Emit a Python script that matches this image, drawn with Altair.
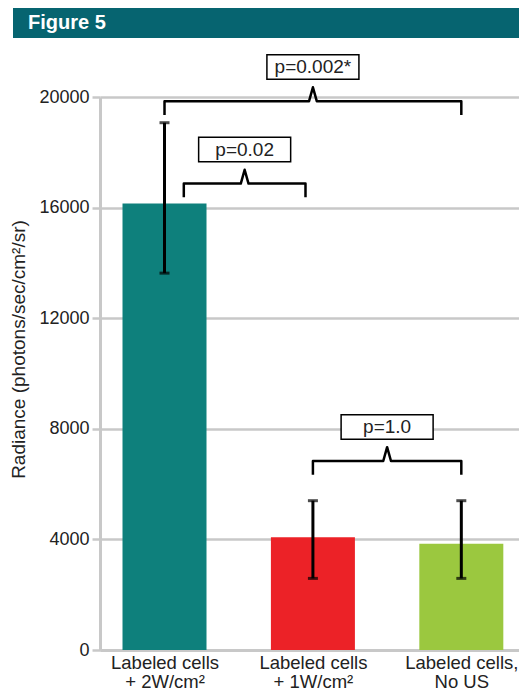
import json
import altair as alt
import pandas as pd

# ---- data ----
categories = ["Labeled cells\n+ 2W/cm²", "Labeled cells\n+ 1W/cm²", "Labeled cells,\nNo US"]
radiance = [16150, 4075, 3840]
err_high = [19070, 5400, 5400]
err_low = [13630, 2590, 2590]
bar_colors = ["#0e807c", "#ec2227", "#9bc83f"]

p_labels = ["p=0.002*", "p=0.02", "p=1.0"]
p_left = [0, 0.13, 1]
p_right = [2, 0.95, 2]
p_level = [19850, 16870, 6835]

y_ticks = [0, 4000, 8000, 12000, 16000, 20000]

# ---- geometry (styling, not data) ----
W, H = 419, 553
TOP = 89
X_DOM = [-0.401, 2.355]
Y_DOM = [0, 20000]
DROP, RISE, TIPW = 500, 500, 0.026
BOX_LO, BOX_HI, BOX_HW, TXT_OFF = 790, 1675, 0.31, 1225
GRID = "#c8c8c8"
INK = "#222222"

idx = list(range(len(categories)))
bars_df = pd.DataFrame({"idx": idx, "cat": categories, "value": radiance,
                        "hi": err_high, "lo": err_low})

xs = alt.Scale(domain=X_DOM, nice=False, zero=False)
ys = alt.Scale(domain=Y_DOM, nice=False, zero=False)

label_lists = [c.split("\n") for c in categories]
label_expr = json.dumps(label_lists, ensure_ascii=False) + "[datum.value]"

Y_TITLE = "Radiance (photons/sec/cm²/sr)"
x_axis = alt.Axis(values=idx, labelExpr=label_expr, title=None, grid=False, ticks=False,
                  domainColor=GRID, domainWidth=3, labelFontSize=18.5, labelColor=INK,
                  labelPadding=3, labelLineHeight=19, labelOverlap=False, labelFlush=False)
y_axis = alt.Axis(values=y_ticks, format="d", title=Y_TITLE,
                  grid=True, gridColor=GRID, gridWidth=2.5, tickColor=GRID, tickWidth=2.5,
                  tickSize=8, domainColor=GRID, domainWidth=3, labelFontSize=18,
                  labelColor=INK, labelPadding=3, titleFontSize=19, titleFontWeight="normal",
                  titleColor=INK, titleX=-72, titleY=252)


def X(field):
    return alt.X(field, scale=xs, axis=x_axis, title=None)


def Y(field):
    return alt.Y(field, scale=ys, axis=y_axis, title=Y_TITLE)


bars = alt.Chart(bars_df).mark_bar(size=84).encode(
    x=X("idx:Q"),
    y=Y("value:Q"),
    color=alt.Color("cat:N", scale=alt.Scale(domain=categories, range=bar_colors), legend=None),
)

err = alt.Chart(bars_df).mark_rule(strokeWidth=3, color="black").encode(
    x=X("idx:Q"), y=Y("lo:Q"), y2="hi:Q",
)
cap_hi = alt.Chart(bars_df).mark_tick(orient="horizontal", size=10, thickness=3, color="black").encode(
    x=X("idx:Q"), y=Y("hi:Q"),
)
cap_lo = alt.Chart(bars_df).mark_tick(orient="horizontal", size=10, thickness=3, color="black").encode(
    x=X("idx:Q"), y=Y("lo:Q"),
)

# brace shapes derived from the bracket arrays
pts = []
for b, (xl, xr, lv) in enumerate(zip(p_left, p_right, p_level)):
    xm = (xl + xr) / 2
    shape = [(xl, lv - DROP), (xl, lv), (xm - TIPW, lv), (xm, lv + RISE),
             (xm + TIPW, lv), (xr, lv), (xr, lv - DROP)]
    for k, (px, py) in enumerate(shape):
        pts.append({"b": b, "k": k, "px": px, "py": py})
brace_df = pd.DataFrame(pts)

box_df = pd.DataFrame({
    "label": p_labels,
    "mid": [(l + r) / 2 for l, r in zip(p_left, p_right)],
    "lv": p_level,
})
box_df["x1"] = box_df["mid"] - BOX_HW
box_df["x2"] = box_df["mid"] + BOX_HW
box_df["y1"] = box_df["lv"] + BOX_LO
box_df["y2"] = box_df["lv"] + BOX_HI
box_df["yt"] = box_df["lv"] + TXT_OFF

braces = alt.Chart(brace_df).mark_line(color="black", strokeWidth=2.5, strokeJoin="round").encode(
    x=X("px:Q"), y=Y("py:Q"), detail="b:N", order="k:Q",
)
boxes = alt.Chart(box_df).mark_rect(fill="white", stroke="black", strokeWidth=1.5).encode(
    x=X("x1:Q"), x2="x2:Q", y=Y("y1:Q"), y2="y2:Q",
)
box_text = alt.Chart(box_df).mark_text(fontSize=19, color=INK, baseline="middle").encode(
    x=X("mid:Q"), y=Y("yt:Q"), text="label:N",
)

banner_df = pd.DataFrame({"t": ["Figure 5"]})
banner = alt.Chart(banner_df).mark_rect(color="#066470").encode(
    x=alt.value(-87), x2=alt.value(W), y=alt.value(-TOP), y2=alt.value(-TOP + 30))
banner_text = alt.Chart(banner_df).mark_text(
    align="left", baseline="alphabetic", fontSize=20, fontWeight="bold", color="white"
).encode(x=alt.value(-72), y=alt.value(-TOP + 21), text="t:N")

chart = alt.layer(bars, err, cap_hi, cap_lo, braces, boxes, box_text, banner, banner_text).properties(
    width=W, height=H,
    autosize=alt.AutoSizeParams(type="none"),
    padding={"left": 92, "top": TOP, "right": 0, "bottom": 40},
).configure(font="Liberation Sans").configure_view(stroke=None)

chart.save("out.html", embed_options={"renderer": "svg", "actions": False})
